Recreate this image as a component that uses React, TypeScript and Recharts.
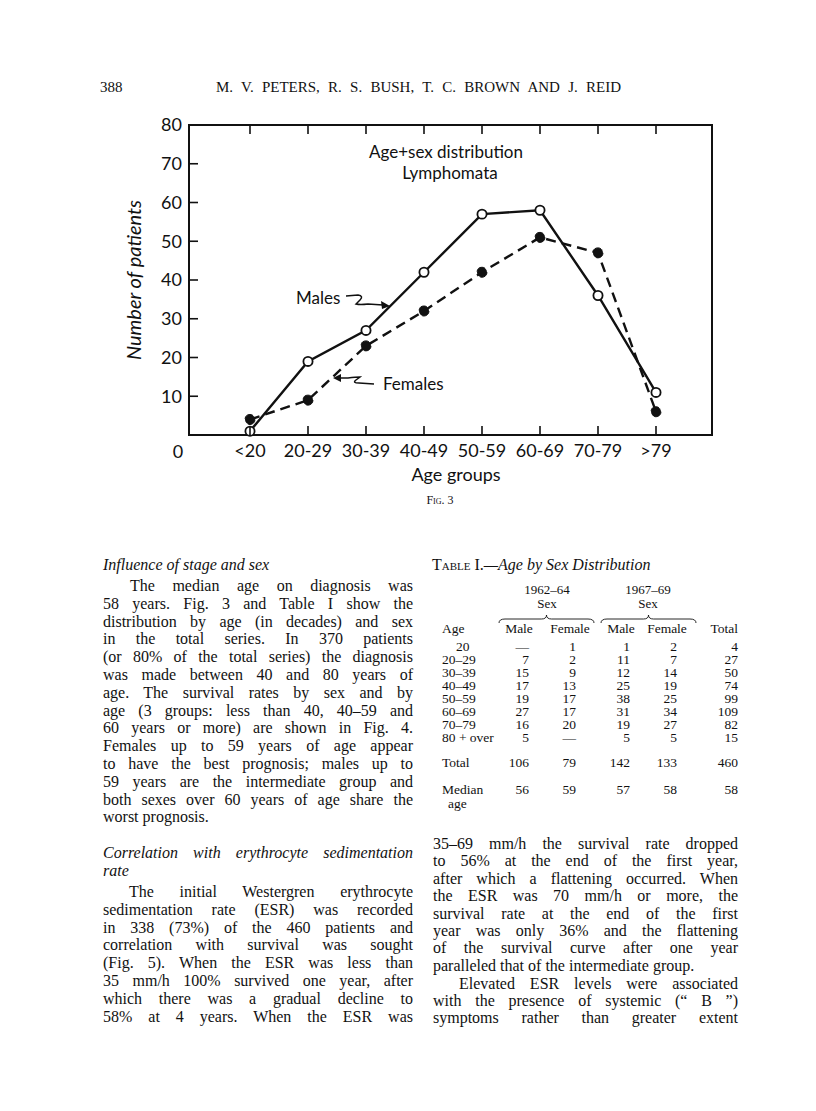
import { LineChart, Line, XAxis, YAxis } from 'recharts';

const ageGroups = ['<20', '20-29', '30-39', '40-49', '50-59', '60-69', '70-79', '>79'];
const males = [1, 19, 27, 42, 57, 58, 36, 11];
const females = [4, 9, 23, 32, 42, 51, 47, 6];
const yTicks = [0, 10, 20, 30, 40, 50, 60, 70, 80];

// Table I values
const tableAges = ['20', '20–29', '30–39', '40–49', '50–59', '60–69', '70–79', '80 + over'];
const male6264 = ['—', '7', '15', '17', '19', '27', '16', '5'];
const female6264 = ['1', '2', '9', '13', '17', '17', '20', '—'];
const male6769 = ['1', '11', '12', '25', '38', '31', '19', '5'];
const female6769 = ['2', '7', '14', '19', '25', '34', '27', '5'];
const totals = ['4', '27', '50', '74', '99', '109', '82', '15'];
const columnTotals = ['106', '79', '142', '133', '460'];
const medianAges = ['56', '59', '57', '58', '58'];

const para1 = [
  'The median age on diagnosis was',
  '58 years.  Fig. 3 and Table I show the',
  'distribution by age (in decades) and sex',
  'in the total series. In 370 patients',
  '(or 80% of the total series) the diagnosis',
  'was made between 40 and 80 years of',
  'age.  The survival rates by sex and by',
  'age (3 groups: less than 40, 40–59 and',
  '60 years or more) are shown in Fig. 4.',
  'Females up to 59 years of age appear',
  'to have the best prognosis; males up to',
  '59 years are the intermediate group and',
  'both sexes over 60 years of age share the',
  'worst prognosis.',
];
const para2 = [
  'The initial Westergren erythrocyte',
  'sedimentation rate (ESR) was recorded',
  'in 338 (73%) of the 460 patients and',
  'correlation with survival was sought',
  '(Fig. 5).  When the ESR was less than',
  '35 mm/h 100% survived one year, after',
  'which there was a gradual decline to',
  '58% at 4 years.  When the ESR was',
];
const para3 = [
  '35–69 mm/h the survival rate dropped',
  'to 56% at the end of the first year,',
  'after which a flattening occurred.  When',
  'the ESR was 70 mm/h or more, the',
  'survival rate at the end of the first',
  'year was only 36% and the flattening',
  'of the survival curve after one year',
  'paralleled that of the intermediate group.',
];
const para4 = [
  'Elevated ESR levels were associated',
  'with the presence of systemic (“ B ”)',
  'symptoms rather than greater extent',
];

const data = ageGroups.map((age, i) => ({ age, males: males[i], females: females[i] }));

const SANS = 'Lato, "Open Sans", sans-serif';
const SERIF = '"Liberation Serif", "Times New Roman", serif';
const INK = '#111';

const frame = { stroke: INK, strokeWidth: 2, strokeLinecap: 'square' as const };

function BottomTick({ x, y, payload }: any) {
  return (
    <g>
      <line x1={x} y1={y} x2={x} y2={y - 9} stroke={INK} strokeWidth={1.6} />
      <text x={x} y={y + 22} textAnchor="middle" fontSize={18} fontFamily={SANS} fill={INK}>
        {payload.value}
      </text>
    </g>
  );
}

function TopTick({ x, y }: any) {
  return <line x1={x} y1={y} x2={x} y2={y + 9} stroke={INK} strokeWidth={1.6} />;
}

function LeftTick({ x, y, payload }: any) {
  const v = payload.value;
  if (v === 0) {
    return (
      <text x={x - 11} y={y + 23} textAnchor="middle" fontSize={18} fontFamily={SANS} fill={INK}>
        0
      </text>
    );
  }
  return (
    <g>
      {v < 80 && <line x1={x} y1={y} x2={x + 9} y2={y} stroke={INK} strokeWidth={1.6} />}
      <text x={x - 7} y={y} dy="0.36em" textAnchor="end" fontSize={18} fontFamily={SANS} fill={INK}>
        {v}
      </text>
    </g>
  );
}

function RightTick({ x, y, payload }: any) {
  const v = payload.value;
  if (v === 0 || v === 80) return <g />;
  return <line x1={x} y1={y} x2={x - 9} y2={y} stroke={INK} strokeWidth={1.6} />;
}

function TextLine({ text, x, y, w, justify = true, italic = false, size = 16 }: any) {
  return (
    <div
      style={{
        position: 'absolute',
        left: x,
        top: y - 10,
        width: w,
        fontFamily: SERIF,
        fontSize: size,
        lineHeight: `${size}px`,
        fontStyle: italic ? 'italic' : 'normal',
        textAlign: 'justify',
        textAlignLast: justify ? 'justify' : 'left',
        color: INK,
      }}
    >
      {text}
    </div>
  );
}

function Paragraph({ lines, x, y0, w, step, indent = 0, lastJustify = false, italic = false }: any) {
  return (
    <>
      {lines.map((t: string, i: number) => (
        <TextLine
          key={i}
          text={t}
          x={i === 0 ? x + indent : x}
          y={y0 + i * step}
          w={i === 0 ? w - indent : w}
          italic={italic}
          justify={i < lines.length - 1 || lastJustify}
        />
      ))}
    </>
  );
}

function Cell({ text, x, y, align = 'right', size = 13.5 }: any) {
  const style: any = {
    position: 'absolute',
    top: y - 7,
    fontFamily: SERIF,
    fontSize: size,
    lineHeight: '12px',
    whiteSpace: 'nowrap',
    color: INK,
  };
  if (align === 'right') {
    style.right = 816 - x;
  } else if (align === 'center') {
    style.left = x - 60;
    style.width = 120;
    style.textAlign = 'center';
  } else {
    style.left = x;
  }
  return <div style={style}>{text}</div>;
}

function Brace({ x1, x2, y }: any) {
  const m = (x1 + x2) / 2;
  return (
    <path
      d={`M${x1},${y + 4} Q${x1},${y} ${x1 + 6},${y} L${m - 5},${y} Q${m},${y} ${m},${y - 4} Q${m},${y} ${m + 5},${y} L${x2 - 6},${y} Q${x2},${y} ${x2},${y + 4}`}
      fill="none"
      stroke={INK}
      strokeWidth={0.9}
    />
  );
}

function AgeSexChart() {
  return (
    <div style={{ position: 'absolute', left: 0, top: 0 }}>
      <LineChart width={816} height={530} data={data} margin={{ top: 115, right: 94, bottom: 55, left: 129 }}>
        <XAxis
          dataKey="age"
          type="category"
          height={40}
          tickSize={0}
          tickMargin={0}
          interval={0}
          padding={{ left: 61, right: 56 }}
          axisLine={frame}
          tick={(p: any) => <BottomTick {...p} />}
        />
        <XAxis
          xAxisId="top"
          orientation="top"
          dataKey="age"
          type="category"
          height={10}
          tickSize={0}
          tickMargin={0}
          interval={0}
          padding={{ left: 61, right: 56 }}
          axisLine={frame}
          tick={(p: any) => <TopTick {...p} />}
        />
        <YAxis
          type="number"
          domain={[0, 80]}
          ticks={yTicks}
          width={60}
          tickSize={0}
          tickMargin={0}
          interval={0}
          axisLine={frame}
          tick={(p: any) => <LeftTick {...p} />}
        />
        <YAxis
          yAxisId="right"
          orientation="right"
          type="number"
          domain={[0, 80]}
          ticks={yTicks}
          width={10}
          tickSize={0}
          tickMargin={0}
          interval={0}
          axisLine={frame}
          tick={(p: any) => <RightTick {...p} />}
        />
        <Line
          dataKey="females"
          stroke={INK}
          strokeWidth={2.4}
          strokeDasharray="10 6"
          dot={{ r: 5, fill: INK, stroke: INK, strokeWidth: 1 }}
          activeDot={false}
          isAnimationActive={false}
        />
        <Line
          dataKey="males"
          stroke={INK}
          strokeWidth={2.4}
          dot={{ r: 4.6, fill: '#fff', stroke: INK, strokeWidth: 1.8 }}
          activeDot={false}
          isAnimationActive={false}
        />
      </LineChart>
      <svg width={816} height={530} style={{ position: 'absolute', left: 0, top: 0, pointerEvents: 'none' }}>
        <g fontFamily={SANS} fill={INK} fontSize={17}>
          <text x={446} y={158} textAnchor="middle">Age+sex distribution</text>
          <text x={450} y={179} textAnchor="middle">Lymphomata</text>
          <text
            x={133}
            y={280}
            transform="rotate(-90 133 280)"
            textAnchor="middle"
            dominantBaseline="central"
            fontStyle="italic"
            fontSize={20}
          >
            Number of patients
          </text>
          <text x={296} y={304}>Males</text>
          <text x={383} y={390}>Females</text>
          <text x={456} y={481} textAnchor="middle" fontSize={18}>Age groups</text>
        </g>
        <g fill="none" stroke={INK} strokeWidth={1.5}>
          <path d="M346,296 L358,295 Q364,296 360,300 L356,304 Q360,305 368,304 L383,305" />
          <path d="M374,384 L359,383 Q352,383 356,380 L360,377 Q356,377 348,378 L339,378" />
        </g>
        <g fill={INK}>
          <path d="M390,306 L381,301 L382,309 Z" />
          <path d="M333,378 L341,374 L341,382 Z" />
        </g>
        <text x={440} y={504} textAnchor="middle" fontFamily={SERIF} fontSize={12} style={{ fontVariant: 'small-caps' }} fill={INK}>
          Fig. 3
        </text>
      </svg>
    </div>
  );
}

export default function App() {
  const colR = [529, 576, 630, 677, 738];
  const rowY0 = 648;
  const rowStep = 13;
  return (
    <div style={{ position: 'absolute', left: 0, top: 0, width: 816, height: 1111, background: '#fff' }}>
      {/* running head */}
      <Cell text="388" x={100} y={88} align="left" size={15} />
      <div
        style={{
          position: 'absolute',
          left: 216,
          top: 80,
          width: 405,
          fontFamily: SERIF,
          fontSize: 15,
          lineHeight: '15px',
          textAlignLast: 'justify',
          color: INK,
        }}
      >
        M. V. PETERS, R. S. BUSH, T. C. BROWN AND J. REID
      </div>

      <AgeSexChart />

      {/* left column */}
      <TextLine text="Influence of stage and sex" x={103} y={567} w={310} italic justify={false} />
      <Paragraph lines={para1} x={103} y0={588} w={310} step={17.8} indent={27} />
      <Paragraph lines={['Correlation with erythrocyte sedimentation', 'rate']} x={103} y0={855} w={310} step={17.8} italic />
      <Paragraph lines={para2} x={103} y0={894} w={310} step={17.8} indent={26} lastJustify />

      {/* right column: table */}
      <div
        style={{
          position: 'absolute',
          left: 432,
          top: 557,
          width: 280,
          fontFamily: SERIF,
          fontSize: 16,
          lineHeight: '16px',
          whiteSpace: 'nowrap',
          color: INK,
        }}
      >
        <span style={{ fontVariant: 'small-caps' }}>Table I.</span>
        <span style={{ fontStyle: 'italic' }}>—Age by Sex Distribution</span>
      </div>
      <Cell text="1962–64" x={547} y={591} align="center" size={13} />
      <Cell text="Sex" x={547} y={605} align="center" size={13} />
      <Cell text="1967–69" x={648} y={591} align="center" size={13} />
      <Cell text="Sex" x={648} y={605} align="center" size={13} />
      <svg width={816} height={1111} style={{ position: 'absolute', left: 0, top: 0, pointerEvents: 'none' }}>
        <Brace x1={499} x2={594} y={619} />
        <Brace x1={601} x2={696} y={619} />
      </svg>
      <Cell text="Age" x={442} y={630} align="left" />
      <Cell text="Male" x={519} y={630} align="center" />
      <Cell text="Female" x={570} y={630} align="center" />
      <Cell text="Male" x={621} y={630} align="center" />
      <Cell text="Female" x={667} y={630} align="center" />
      <Cell text="Total" x={738} y={630} />
      {tableAges.map((a, i) => {
        const y = rowY0 + i * rowStep;
        const vals = [male6264[i], female6264[i], male6769[i], female6769[i], totals[i]];
        return (
          <div key={a}>
            <Cell text={a} x={i === 0 ? 456 : 442} y={y} align="left" />
            {vals.map((v, j) => (
              <Cell key={j} text={v} x={colR[j]} y={y} />
            ))}
          </div>
        );
      })}
      <Cell text="Total" x={442} y={764} align="left" />
      {columnTotals.map((v, j) => (
        <Cell key={j} text={v} x={colR[j]} y={764} />
      ))}
      <Cell text="Median" x={442} y={791} align="left" />
      <Cell text="age" x={448} y={805} align="left" />
      {medianAges.map((v, j) => (
        <Cell key={j} text={v} x={colR[j]} y={791} />
      ))}

      {/* right column text */}
      <Paragraph lines={para3} x={433} y0={846} w={305} step={17.4} />
      <Paragraph lines={para4} x={433} y0={985.5} w={305} step={17.4} indent={26} lastJustify />
    </div>
  );
}
